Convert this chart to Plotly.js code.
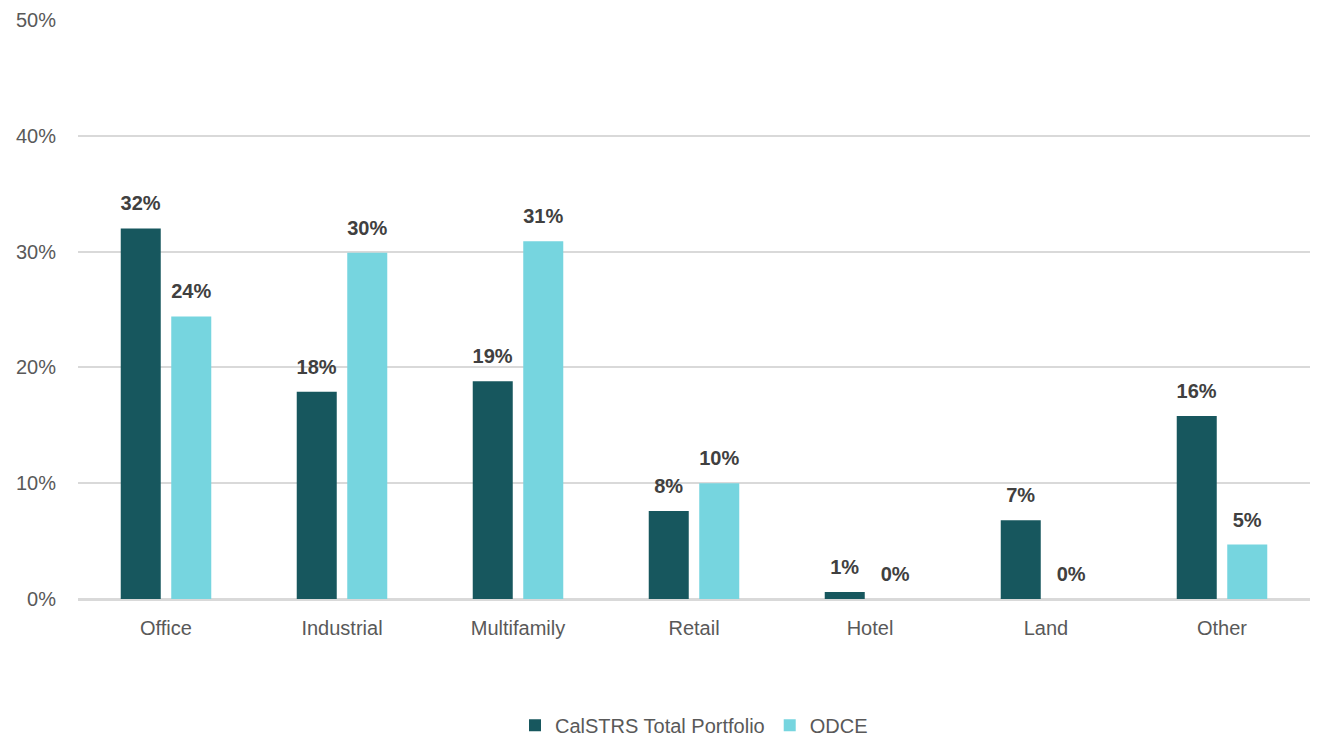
<!DOCTYPE html>
<html>
<head>
<meta charset="utf-8">
<script src="https://cdn.plot.ly/plotly-3.0.1.min.js"></script>
<style>html,body{margin:0;padding:0;background:#fff;}#chart{width:1322px;height:743px;}</style>
</head>
<body>
<div id="chart"></div>
<script>
const categories = ["Office", "Industrial", "Multifamily", "Retail", "Hotel", "Land", "Other"];
const calstrs = [32.0, 17.9, 18.8, 7.6, 0.6, 6.8, 15.8];
const odce = [24.4, 29.9, 30.9, 10.0, 0.0, 0.0, 4.7];
const seriesNames = ["CalSTRS Total Portfolio", "ODCE"];

const FONT = '"Liberation Sans Narrow", "Arial Narrow", "Liberation Sans", Arial, sans-serif';
const LABEL = '<span style="font-size:20px">%{y:.0f}%</span><br> ';

const traces = [
  {type: 'bar', name: seriesNames[0], x: categories, y: calstrs,
   marker: {color: '#17575E'}, texttemplate: LABEL, textposition: 'outside', constraintext: 'none',
   textfont: {family: FONT, size: 10, color: '#404040', weight: 'bold'}, cliponaxis: false, hoverinfo: 'skip'},
  {type: 'bar', name: seriesNames[1], x: categories, y: odce,
   marker: {color: '#76D5DF'}, texttemplate: LABEL, textposition: 'outside', constraintext: 'none',
   textfont: {family: FONT, size: 10, color: '#404040', weight: 'bold'}, cliponaxis: false, hoverinfo: 'skip'}
];

const layout = {
  width: 1322, height: 743,
  margin: {l: 78, r: 12, t: 20, b: 144},
  paper_bgcolor: '#fff', plot_bgcolor: '#fff',
  font: {family: FONT, size: 20, color: '#595959'},
  barmode: 'group', bargap: 0.426, bargroupgap: 0.208,
  showlegend: true,
  legend: {orientation: 'h', x: 0.5, xanchor: 'center', yref: 'container', y: 0.024, yanchor: 'middle',
           font: {family: FONT, size: 20, color: '#595959'}, itemwidth: 30, traceorder: 'normal'},
  xaxis: {showgrid: false, showline: true, linecolor: '#d9d9d9', linewidth: 2,
          ticks: 'outside', ticklen: 10, tickcolor: 'rgba(0,0,0,0)',
          tickfont: {family: FONT, size: 20, color: '#595959'}},
  yaxis: {range: [0, 50], dtick: 10, ticksuffix: '%', showgrid: true, gridcolor: '#d9d9d9', gridwidth: 2,
          zeroline: true, zerolinecolor: '#d9d9d9', zerolinewidth: 2,
          ticks: 'outside', ticklen: 17, tickcolor: 'rgba(0,0,0,0)',
          tickfont: {family: FONT, size: 20, color: '#595959'}}
};

Plotly.newPlot('chart', traces, layout, {displayModeBar: false, staticPlot: true});
</script>
</body>
</html>
